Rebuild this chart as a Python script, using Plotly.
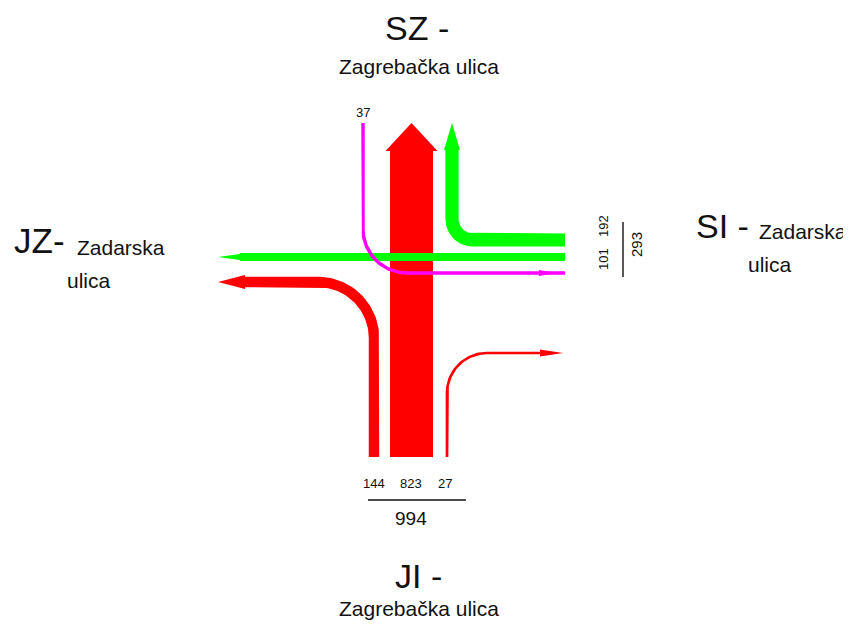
import numpy as np
import plotly.graph_objects as go

# brojanje prometa - raskrizje Zagrebacka / Zadarska
ji_smjerovi = ["lijevo", "ravno", "desno"]
ji_volumeni = [144, 823, 27]
si_smjerovi = ["ravno", "desno"]
si_volumeni = [101, 192]
sz_smjerovi = ["lijevo"]
sz_volumeni = [37]

RED = "#FF0000"
GREEN = "#00FF00"
MAGENTA = "#FF00FF"
FONT = "Liberation Sans, Arial, sans-serif"

# geometry of each movement (screen px, y pointing down)
geometry = {
    ("JI", "lijevo"): dict(color=RED, pts=[(374, 457), (374, 282), (245, 282)], r=56,
                           head=((245, 282), (218, 282), 7)),
    ("JI", "ravno"): dict(color=RED, pts=[(411.5, 457), (411.5, 151)], r=0,
                          head=((411.5, 151), (411.5, 123), 26)),
    ("JI", "desno"): dict(color=RED, pts=[(447, 457), (447, 353), (540, 353)], r=40,
                          head=((540, 353), (563, 353), 3.5)),
    ("SI", "ravno"): dict(color=GREEN, pts=[(565, 257), (240, 257)], r=0,
                          head=((240, 257), (218, 257), 3)),
    ("SI", "desno"): dict(color=GREEN, pts=[(565, 240), (452, 240), (452, 150)], r=21,
                          head=((452, 150), (452, 123), 8)),
    ("SZ", "lijevo"): dict(color=MAGENTA, pts=[(363, 123), (363, 273), (565, 273)], r=44,
                           head=((539, 273), (556, 273), 3)),
}


def band_width(v):
    return 0.187 * v ** 0.81


def centerline(pts, r, n=40):
    if len(pts) == 2:
        return np.array(pts, float)
    p0, c, p1 = (np.array(p, float) for p in pts)
    d1 = (c - p0) / np.linalg.norm(c - p0)
    d2 = (p1 - c) / np.linalg.norm(p1 - c)
    t1 = c - d1 * r
    t2 = c + d2 * r
    centre = t1 + d2 * r
    a1 = np.arctan2(t1[1] - centre[1], t1[0] - centre[0])
    a2 = np.arctan2(t2[1] - centre[1], t2[0] - centre[0])
    da = (a2 - a1 + np.pi) % (2 * np.pi) - np.pi
    ang = a1 + da * np.linspace(0, 1, n)
    arc = centre + r * np.column_stack([np.cos(ang), np.sin(ang)])
    return np.vstack([p0, arc, p1])


def band(line, w):
    d = np.gradient(line, axis=0)
    d /= np.linalg.norm(d, axis=1)[:, None]
    nrm = np.column_stack([-d[:, 1], d[:, 0]])
    left = line + nrm * w / 2
    right = line - nrm * w / 2
    return np.vstack([left, right[::-1], left[:1]])


def arrow_head(base, tip, half):
    b, t = np.array(base, float), np.array(tip, float)
    d = (t - b) / np.linalg.norm(t - b)
    n = np.array([-d[1], d[0]])
    return np.vstack([b + n * half, t, b - n * half, b + n * half])


flows = []
for smjer, v in zip(ji_smjerovi, ji_volumeni):
    flows.append(("JI", smjer, v))
for smjer, v in zip(si_smjerovi, si_volumeni):
    flows.append(("SI", smjer, v))
for smjer, v in zip(sz_smjerovi, sz_volumeni):
    flows.append(("SZ", smjer, v))

fig = go.Figure()
for prilaz, smjer, v in flows:
    g = geometry[(prilaz, smjer)]
    poly = band(centerline(g["pts"], g["r"]), band_width(v))
    head = arrow_head(*g["head"])
    for shape in (poly, head):
        fig.add_trace(go.Scatter(
            x=shape[:, 0], y=shape[:, 1],
            mode="lines", fill="toself", fillcolor=g["color"],
            line=dict(width=0, color=g["color"]),
            hoverinfo="text", text=f"{prilaz} {smjer}: {v}",
            showlegend=False,
        ))


def label(x, y, text, size, anchor="center", angle=0):
    fig.add_annotation(x=x, y=y, text=text, showarrow=False, xanchor=anchor,
                       yanchor="middle", textangle=angle,
                       font=dict(family=FONT, size=size, color="#111111"))


# counts on the south approach
for x, v in zip([373.5, 410.5, 445], ji_volumeni):
    label(x, 483, str(v), 13)
label(411, 518, str(sum(ji_volumeni)), 19)
fig.add_shape(type="line", x0=368, x1=466, y0=500, y1=500, line=dict(color="#111", width=1.4))

# counts on the east approach
for y, v in zip([259, 226], si_volumeni):
    label(603, y, str(v), 13, angle=-90)
label(636, 245, str(sum(si_volumeni)), 15, angle=-90)
fig.add_shape(type="line", x0=623, x1=623, y0=222, y1=277, line=dict(color="#111", width=1.4))

# counts on the north approach
label(363, 112, str(sz_volumeni[0]), 13)

# approach names
label(417, 28, "SZ -", 34)
label(419, 66, "Zagrebačka ulica", 21)
label(418, 576, "JI -", 34)
label(419, 608, "Zagrebačka ulica", 21)
label(12, 240, "JZ-", 35, anchor="left")
label(75, 247, "Zadarska", 21, anchor="left")
label(89, 280, "ulica", 21)
label(694, 226, "SI -", 34, anchor="left")
label(757, 231, "Zadarska", 21, anchor="left")
label(770, 264, "ulica", 21)

fig.update_layout(
    width=843, height=617,
    margin=dict(l=0, r=0, t=0, b=0),
    paper_bgcolor="white", plot_bgcolor="white",
    xaxis=dict(range=[8, 851], visible=False, fixedrange=True),
    yaxis=dict(range=[625, 8], visible=False, fixedrange=True),
)

fig.write_html("out.html")
